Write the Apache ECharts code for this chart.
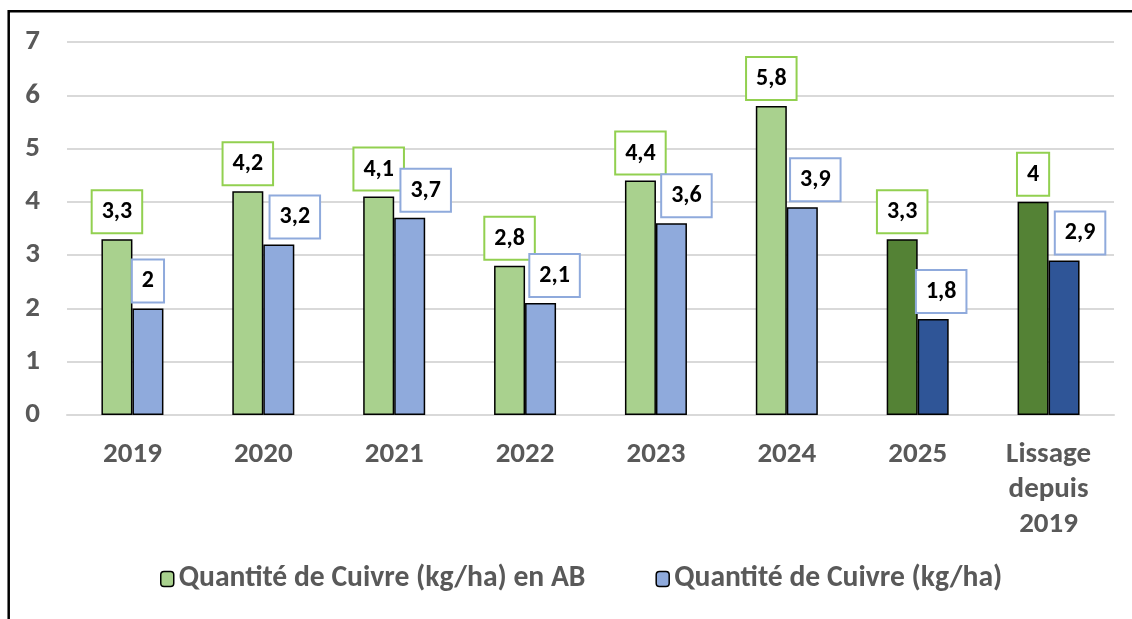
<!DOCTYPE html>
<html><head><meta charset="utf-8">
<script src="https://cdn.jsdelivr.net/npm/echarts@6/dist/echarts.min.js"></script>
<style>html,body{margin:0;padding:0;background:#fff}#c{width:1132px;height:619px}</style>
</head><body><div id="c"></div>
<script>
const categories = ['2019','2020','2021','2022','2023','2024','2025','Lissage\ndepuis\n2019'];
const cuivreAB = [3.3, 4.2, 4.1, 2.8, 4.4, 5.8, 3.3, 4];
const cuivre = [2, 3.2, 3.7, 2.1, 3.6, 3.9, 1.8, 2.9];
const yTicks = [0,1,2,3,4,5,6,7];
const seriesNames = ['Quantité de Cuivre (kg/ha) en AB', 'Quantité de Cuivre (kg/ha)'];

const FONT = 'Carlito, Lato, "Liberation Sans", sans-serif';
const blueLabelShift = [0, 16, 16, 14, 15, 13, 8, 16];
const darkFrom = 6;

function fmt(p){ return String(p.value).replace('.', ','); }
function labelStyle(border){
  return {show:true, position:'top', distance:7, formatter:fmt,
    fontFamily:FONT, fontWeight:'bold', fontSize:24, lineHeight:24, color:'#000',
    backgroundColor:'#fff', borderColor:border, borderWidth:2,
    padding:[9,9,8,9]};
}

const chart = echarts.init(document.getElementById('c'));
chart.setOption({
  animation:false,
  graphic:[{type:'rect', shape:{x:8.7, y:11.3, width:1140, height:640},
    style:{fill:'none', stroke:'#000', lineWidth:2.5}, z:100}],
  grid:{left:67, right:18, top:42, bottom:204, containLabel:false},
  legend:{bottom:20, left:155, itemWidth:13, itemHeight:15, itemGap:70,
    textStyle:{fontFamily:FONT, fontSize:29.6, color:'#595959', fontWeight:'bold'},
    data:seriesNames.map(n=>({name:n, itemStyle:{borderColor:'#000', borderWidth:1.5}}))},
  xAxis:{type:'category', data:categories,
    axisLine:{show:true, lineStyle:{color:'#d9d9d9', width:2}}, axisTick:{show:false},
    axisLabel:{fontFamily:FONT, fontSize:29, fontWeight:'bold', color:'#595959', margin:22, lineHeight:35, interval:0}},
  yAxis:{type:'value', min:0, max:7, interval:1,
    axisLine:{show:false}, axisTick:{show:false},
    splitLine:{lineStyle:{color:'#d9d9d9', width:2}},
    axisLabel:{fontFamily:FONT, fontSize:29, fontWeight:'bold', color:'#595959', margin:27,
      formatter:v=>yTicks.includes(v)?String(v):''}},
  series:[
    {name:seriesNames[0], type:'bar', barWidth:31, barGap:'0%',
     itemStyle:{color:'#a9d18e', borderColor:'#000', borderWidth:1.5},
     label:labelStyle('#92d050'),
     data:cuivreAB.map((v,i)=>({value:v, itemStyle:{color:i>=darkFrom?'#548235':'#a9d18e'}}))},
    {name:seriesNames[1], type:'bar', barWidth:31, barGap:'0%',
     itemStyle:{color:'#8faadc', borderColor:'#000', borderWidth:1.5},
     label:labelStyle('#8faadc'),
     data:cuivre.map((v,i)=>({value:v, itemStyle:{color:i>=darkFrom?'#2f5597':'#8faadc'},
       label:{offset:[blueLabelShift[i],0]}}))}
  ]
});
</script></body></html>
